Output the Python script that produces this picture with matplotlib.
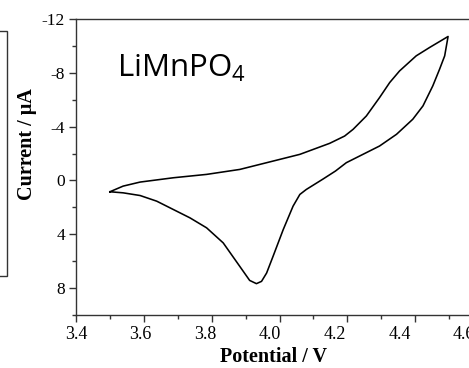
import matplotlib.pyplot as plt
from matplotlib.patches import Rectangle
from matplotlib.ticker import MultipleLocator
#
# Cyclic voltammogram of LiMnPO4, one closed loop
# anodic sweep first, then cathodic sweep back to the start
#
potential = [3.500, 3.539, 3.589, 3.687, 3.785, 3.883, 3.981, 4.06, 4.148, 4.192,
             4.217, 4.256, 4.295, 4.325, 4.354, 4.403, 4.443, 4.497,
             4.487, 4.472, 4.452, 4.423, 4.393, 4.345, 4.295, 4.246, 4.197, 4.165,
             4.128, 4.079, 4.06, 4.040, 4.011, 3.981, 3.962, 3.947, 3.932, 3.912,
             3.883, 3.834, 3.785, 3.736, 3.687, 3.638, 3.589, 3.539, 3.500]
current = [0.84, 0.42, 0.12, -0.2, -0.45, -0.82, -1.44, -1.94, -2.76, -3.3,
           -3.8, -4.79, -6.16, -7.28, -8.14, -9.26, -9.89, -10.7,
           -9.26, -8.27, -7.03, -5.54, -4.55, -3.43, -2.56, -1.94, -1.32, -0.7,
           -0.1, 0.67, 1.04, 1.91, 3.65, 5.64, 6.88, 7.5, 7.67, 7.43,
           6.39, 4.64, 3.52, 2.78, 2.16, 1.54, 1.12, 0.92, 0.84]
xticks = [3.4, 3.6, 3.8, 4.0, 4.2, 4.4, 4.6]
xlabels = ['3.4', '3.6', '3.8', '4.0', '4.2', '4.4', '4.6']
yticks = [-12, -8, -4, 0, 4, 8]
#
# Figure, axes run past the right edge like the cropped original
#
fig = plt.figure(figsize=(4.69, 3.68), dpi=100)
box = [76/469, 1-315/368, 407/469, 296/368]
ax = fig.add_axes(box)
ax.plot(potential, current, color='black', lw=1.15, solid_joinstyle='round')
ax.set_xlim(3.4, 4.6)
ax.set_ylim(10, -12)
ax.set_xticks(xticks)
ax.set_yticks(yticks)
ax.set_xticklabels([])
ax.set_yticklabels([str(v) for v in yticks])
ax.xaxis.set_minor_locator(MultipleLocator(0.1))
ax.yaxis.set_minor_locator(MultipleLocator(2))
ax.tick_params(which='both', direction='out', color='#333333', width=1,
               labelsize=12.5, labelfontfamily='Liberation Serif', pad=3)
ax.tick_params(which='major', length=5)
ax.tick_params(which='minor', length=3)
for s in ax.spines.values():
    s.set_color('#333333')
    s.set_linewidth(1)
ax.set_ylabel("Current / \u03bcA", fontsize=14.5, fontweight='bold',
              family='Liberation Serif')
ax.yaxis.set_label_coords(-0.096, 0.578)
#
# x tick labels sit on a slightly squeezed scale in the original scan
#
lab = fig.add_axes(box, frameon=False)
lab.set_xlim(3.4 + 2/325, 3.4 + 409/325)
lab.set_xticks(xticks)
lab.set_xticklabels(xlabels)
lab.set_yticks([])
lab.tick_params(axis='x', length=0, pad=8, labelsize=13,
                labelfontfamily='Liberation Serif')
lab.set_xlabel("Potential / V", fontsize=14.5, fontweight='bold',
               family='Liberation Serif')
lab.xaxis.set_label_coords(0.486, -0.108)
#
# Sample label
#
plt.rcParams['mathtext.fontset'] = 'custom'
plt.rcParams['mathtext.rm'] = 'Open Sans'
fig.text(117/469, 1-77/368, r'LiMnPO$_\mathregular{4}$', fontsize=22.5,
         family='Open Sans', ha='left', va='baseline')
#
# Edge of the neighbouring panel on the left
#
fig.patches.append(Rectangle((-10/469, 1-276/368), 17/469, 245/368,
                             transform=fig.transFigure, fill=False,
                             edgecolor='#333333', lw=1))
fig.savefig('out.png', dpi=100)
